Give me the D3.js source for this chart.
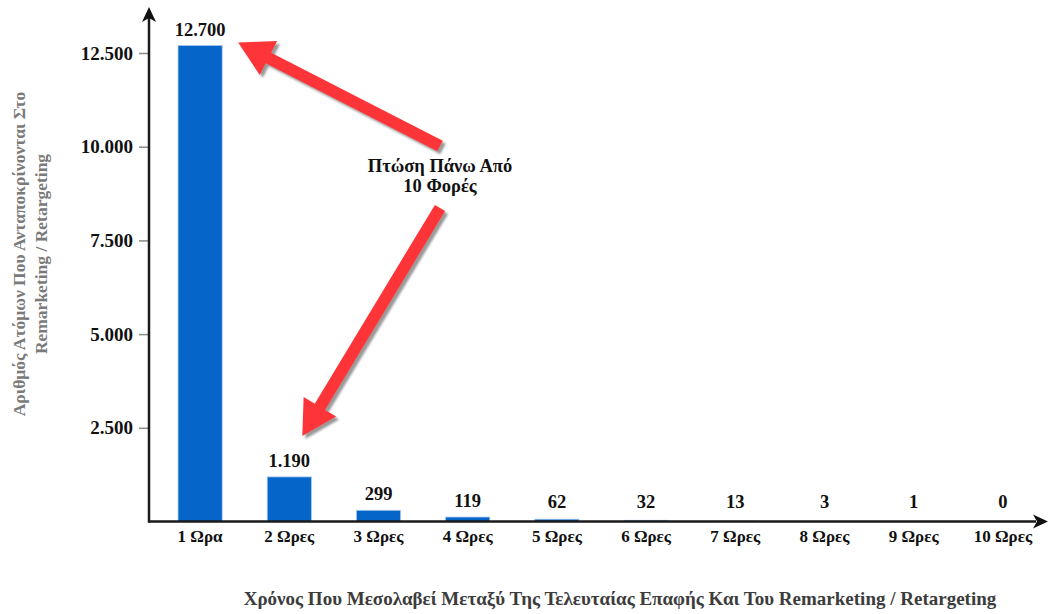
<!DOCTYPE html>
<html>
<head>
<meta charset="utf-8">
<script src="https://cdn.jsdelivr.net/npm/d3@7"></script>
<style>
  html, body { margin: 0; padding: 0; background: #fff; }
  svg { display: block; }
  text { font-family: "Liberation Serif", "Times New Roman", serif; font-weight: bold; }
</style>
</head>
<body>
<svg id="chart" width="1049" height="614"></svg>
<script>
// Hours between last contact and remarketing, with the number of people responding
const categories = ["1 Ωρα", "2 Ωρες", "3 Ωρες", "4 Ωρες", "5 Ωρες", "6 Ωρες", "7 Ωρες", "8 Ωρες", "9 Ωρες", "10 Ωρες"];
const responders = [12700, 1190, 299, 119, 62, 32, 13, 3, 1, 0];
const yTicks = [2500, 5000, 7500, 10000, 12500];
const yTitleLines = ["Αριθμός Ατόμων Που Ανταποκρίνονται Στο", "Remarketing / Retargeting"];
const xTitle = "Χρόνος Που Μεσολαβεί Μεταξύ Της Τελευταίας Επαφής Και Του Remarketing / Retargeting";
const noteLines = ["Πτώση Πάνω Από", "10 Φορές"];

const svg = d3.select("#chart");
const axisX = 149, axisY = 521.5;

// Greek number format: dot as thousands separator
const gr = d3.formatLocale({ decimal: ",", thousands: ".", grouping: [3], currency: ["", "€"] });
const fmt = gr.format(",d");

const x = d3.scaleBand().domain(categories).range([155.5, 1047.5]).paddingInner(0.505).paddingOuter(0.2525);
const y = d3.scaleLinear().domain([0, 12500]).range([axisY, 53]);

// drop shadow for the callout arrows
const defs = svg.append("defs");
defs.append("filter").attr("id", "shadow").attr("x", "-20%").attr("y", "-20%").attr("width", "140%").attr("height", "140%")
  .append("feDropShadow").attr("dx", 3).attr("dy", 3).attr("stdDeviation", 1.2)
  .attr("flood-color", "#777").attr("flood-opacity", 0.75);

// bars
svg.append("g").selectAll("rect").data(responders).join("rect")
  .attr("x", (d, i) => x(categories[i]))
  .attr("width", x.bandwidth())
  .attr("y", d => y(d))
  .attr("height", d => axisY - y(d))
  .attr("fill", "#0565c9")
  .attr("stroke", "#a8c8ee")
  .attr("stroke-width", 0.8);

// value labels
svg.append("g").selectAll("text").data(responders).join("text")
  .attr("x", (d, i) => x(categories[i]) + x.bandwidth() / 2)
  .attr("y", d => Math.min(y(d), axisY - 4) - 10)
  .attr("text-anchor", "middle")
  .attr("font-size", 18.5)
  .attr("fill", "#111")
  .text(d => fmt(d));

// y axis ticks and labels
const yAxis = svg.append("g").attr("transform", `translate(${axisX},0)`)
  .call(d3.axisLeft(y).tickValues(yTicks).tickSize(10).tickPadding(6).tickFormat(fmt));
yAxis.select(".domain").remove();
yAxis.selectAll(".tick line").attr("stroke", "#8a8a8a").attr("stroke-width", 1.5);
yAxis.selectAll(".tick text").attr("font-size", 19).attr("fill", "#111")
  .style("font-family", "'Liberation Serif', serif").style("font-weight", "bold");

// category labels
svg.append("g").selectAll("text").data(categories).join("text")
  .attr("x", d => x(d) + x.bandwidth() / 2)
  .attr("y", axisY + 20)
  .attr("text-anchor", "middle")
  .attr("font-size", 17)
  .attr("fill", "#111")
  .text(d => d);

// axis lines with arrowheads
const axisG = svg.append("g");
axisG.append("line").attr("x1", axisX).attr("x2", axisX).attr("y1", axisY + 1).attr("y2", 16)
  .attr("stroke", "#1a1a1a").attr("stroke-width", 2.5);
axisG.append("line").attr("x1", axisX - 1).attr("x2", 1036).attr("y1", axisY).attr("y2", axisY)
  .attr("stroke", "#1a1a1a").attr("stroke-width", 2.5);
axisG.append("path")
  .attr("d", `M${axisX},7 L${axisX - 7},22 L${axisX},18 L${axisX + 7},22 Z`)
  .attr("fill", "#111");
axisG.append("path")
  .attr("d", `M1048,${axisY} L1033,${axisY - 7} L1037,${axisY} L1033,${axisY + 7} Z`)
  .attr("fill", "#111");

// axis titles
const yTitle = svg.append("text")
  .attr("transform", "translate(25,254) rotate(-90)")
  .attr("text-anchor", "middle")
  .attr("font-size", 17.5)
  .attr("fill", "#7a7a7a");
yTitleLines.forEach((t, i) => yTitle.append("tspan").attr("x", 0).attr("dy", i === 0 ? 0 : 22).text(t));

svg.append("text")
  .attr("x", 620).attr("y", 605)
  .attr("text-anchor", "middle")
  .attr("font-size", 19)
  .attr("fill", "#3c3c3c")
  .text(xTitle);

// callout arrows
function arrowPath(x1, y1, x2, y2, shaft, headLen, headW) {
  const dx = x2 - x1, dy = y2 - y1, len = Math.hypot(dx, dy);
  const ux = dx / len, uy = dy / len, px = -uy, py = ux;
  const bx = x2 - ux * headLen, by = y2 - uy * headLen;
  const s = shaft / 2, h = headW / 2;
  const pts = [
    [x1 + px * s, y1 + py * s], [bx + px * s, by + py * s], [bx + px * h, by + py * h],
    [x2, y2],
    [bx - px * h, by - py * h], [bx - px * s, by - py * s], [x1 - px * s, y1 - py * s]
  ];
  return "M" + pts.map(p => p.join(",")).join("L") + "Z";
}

const c0 = categories[0], c1 = categories[1];
const tip1 = [x(c0) + x.bandwidth() + 16, y(responders[0]) - 3];
const tip2 = [x(c1) + x.bandwidth() / 2 + 13, y(responders[1]) - 41];
const noteX = 440;

const arrows = svg.append("g").attr("filter", "url(#shadow)");
arrows.append("path").attr("d", arrowPath(noteX, 146, tip1[0], tip1[1], 12, 34, 38)).attr("fill", "#fe3537");
arrows.append("path").attr("d", arrowPath(noteX, 208, tip2[0], tip2[1], 12, 34, 38)).attr("fill", "#fe3537");

// callout text
const note = svg.append("text").attr("text-anchor", "middle").attr("font-size", 18.5).attr("fill", "#111");
noteLines.forEach((t, i) => note.append("tspan").attr("x", noteX).attr("y", 172 + i * 20).text(t));
</script>
</body>
</html>
